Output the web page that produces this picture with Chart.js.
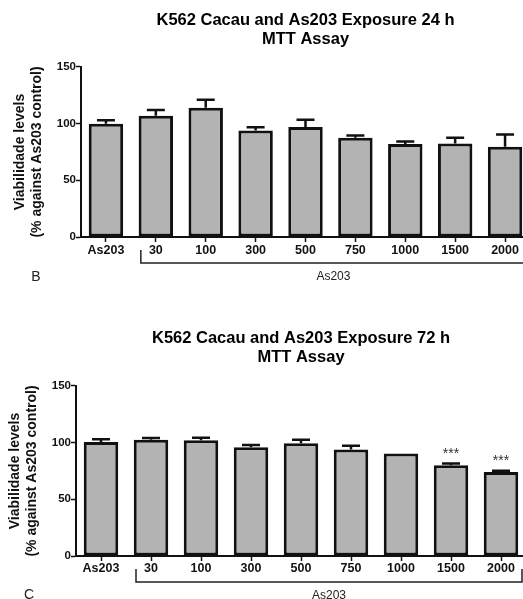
<!DOCTYPE html>
<html>
<head>
<meta charset="utf-8">
<title>K562 Cacau and As203 - MTT Assay</title>
<script src="https://cdn.jsdelivr.net/npm/chart.js@4.4.1/dist/chart.umd.min.js"></script>
<style>
  body { margin: 0; background: #fff; overflow: hidden; width: 523px; height: 599px; }
  .panel { position: absolute; left: 0; }
</style>
</head>
<body>
<div class="panel" style="top:0"><canvas id="chart24" width="540" height="300"></canvas></div>
<div class="panel" style="top:300px"><canvas id="chart72" width="540" height="299"></canvas></div>
<script>
// doses (As203 control, then As203 concentrations)
const doses = ['As203', '30', '100', '300', '500', '750', '1000', '1500', '2000'];

// 24 h exposure: mean viability and SEM (upper bar only)
const mean24 = [100, 107, 114, 94, 97, 87.5, 82, 82.5, 79.5];
const sem24 = [3, 5, 7, 2.8, 6.5, 2, 2.3, 5, 11];

// 72 h exposure
const mean72 = [100.5, 102.5, 102, 96, 99.5, 94, 90.5, 80, 74];
const sem72 = [2.5, 1.5, 2.2, 2, 3, 3.2, 0, 1.5, 1.2];
const stars72 = ['', '', '', '', '', '', '', '***', '***'];

const yTicks = [0, 50, 100, 150];
const groupLabel = 'As203';
const yTitle = ['Viabilidade levels', '(% against As203 control)'];

const FONT = "'Liberation Sans', Arial, Helvetica, sans-serif";

// error bars + significance stars, drawn from the bar elements
const errorBars = {
    id: 'errorBars',
    afterDatasetsDraw(chart) {
        const ctx = chart.ctx;
        const y = chart.scales.y;
        const ds = chart.data.datasets[0];
        const meta = chart.getDatasetMeta(0);
        ctx.save();
        ctx.strokeStyle = '#111';
        ctx.lineWidth = 2.5;
        meta.data.forEach((bar, i) => {
            const top = y.getPixelForValue(ds.data[i] + ds.sem[i]);
            if (ds.sem[i] > 0) {
                ctx.beginPath();
                ctx.moveTo(bar.x, bar.y);
                ctx.lineTo(bar.x, top);
                ctx.moveTo(bar.x - 9, top);
                ctx.lineTo(bar.x + 9, top);
                ctx.stroke();
            }
            if (ds.stars && ds.stars[i]) {
                ctx.fillStyle = '#333';
                ctx.font = '14px ' + FONT;
                ctx.textAlign = 'center';
                ctx.textBaseline = 'alphabetic';
                ctx.fillText(ds.stars[i], bar.x, top - 6);
            }
        });
        ctx.restore();
    }
};

// bracket under the As203 doses, group label and panel letter
function decor(letter, letterX, letterY) {
    return {
        id: 'decor',
        afterDraw(chart) {
            const ctx = chart.ctx;
            const x = chart.scales.x;
            const base = chart.chartArea.bottom;
            const left = x.getPixelForValue(1) - 15;
            const right = x.getPixelForValue(8) + 21;
            ctx.save();
            ctx.strokeStyle = '#222';
            ctx.lineWidth = 1.5;
            ctx.beginPath();
            ctx.moveTo(left, base + 13);
            ctx.lineTo(left, base + 26);
            ctx.lineTo(right, base + 26);
            ctx.lineTo(right, base + 13);
            ctx.stroke();

            ctx.fillStyle = '#222';
            ctx.textAlign = 'center';
            ctx.textBaseline = 'middle';
            ctx.font = '12px ' + FONT;
            ctx.fillText(groupLabel, (left + right) / 2, base + 39.5);

            ctx.font = '14px ' + FONT;
            ctx.fillText(letter, letterX, letterY);
            ctx.restore();
        }
    };
}

function makeChart(id, title, mean, sem, stars, layout) {
    const tickFont = { family: FONT, weight: 'bold' };
    return new Chart(document.getElementById(id), {
        type: 'bar',
        data: {
            labels: doses,
            datasets: [{
                data: mean,
                sem: sem,
                stars: stars,
                backgroundColor: '#b3b3b3',
                borderColor: '#111',
                borderWidth: 3,
                borderSkipped: false,
                barPercentage: 0.69,
                categoryPercentage: 1
            }]
        },
        options: {
            responsive: false,
            animation: false,
            events: [],
            layout: { padding: { left: 0, top: 0, bottom: 0, right: layout.padRight } },
            plugins: {
                legend: { display: false },
                tooltip: { enabled: false },
                title: {
                    display: true,
                    fullSize: false,
                    text: title,
                    color: '#000',
                    font: { family: FONT, size: 16.5, weight: 'bold', lineHeight: 1.15 },
                    padding: { top: layout.titleTop, bottom: layout.titleBottom }
                }
            },
            scales: {
                x: {
                    afterFit: s => { s.height = layout.xHeight; },
                    border: { display: true, color: '#111', width: 2 },
                    grid: { display: true, drawOnChartArea: false, offset: false, tickLength: 5, tickColor: '#111', tickWidth: 1.5 },
                    ticks: { color: '#111', font: Object.assign({ size: 12.5 }, tickFont), padding: layout.xPad, maxRotation: 0, autoSkip: false }
                },
                y: {
                    min: 0,
                    max: 150,
                    afterFit: s => { s.width = layout.yWidth; },
                    afterBuildTicks: s => { s.ticks = yTicks.map(v => ({ value: v })); },
                    border: { display: true, color: '#111', width: 2 },
                    grid: { display: true, drawOnChartArea: false, tickLength: 5, tickColor: '#111', tickWidth: 1.5 },
                    ticks: { color: '#111', font: Object.assign({ size: 11.5 }, tickFont), padding: 0 },
                    title: {
                        display: true,
                        text: yTitle,
                        color: '#111',
                        font: { family: FONT, size: 14, weight: 'bold', lineHeight: 1.2 },
                        padding: { top: layout.yTitleTop, bottom: 0 }
                    }
                }
            }
        },
        plugins: [errorBars, decor(layout.letter, layout.letterX, layout.letterY)]
    });
}

makeChart('chart24', ['K562 Cacau and As203 Exposure 24 h', 'MTT Assay'], mean24, sem24, null, {
    padRight: 10, titleTop: 10.5, titleBottom: 18.5, xHeight: 63, xPad: 1, yWidth: 81, yTitleTop: 11.6,
    letter: 'B', letterX: 36, letterY: 277
});

makeChart('chart72', ['K562 Cacau and As203 Exposure 72 h', 'MTT Assay'], mean72, sem72, stars72, {
    padRight: 14, titleTop: 29, titleBottom: 19, xHeight: 43, xPad: 0, yWidth: 76, yTitleTop: 6.6,
    letter: 'C', letterX: 29, letterY: 295
});
</script>
</body>
</html>
